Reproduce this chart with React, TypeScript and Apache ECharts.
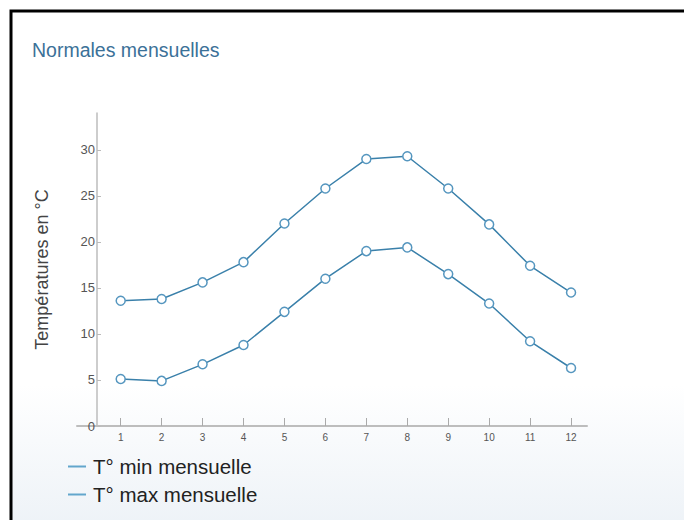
import React, { useEffect, useRef } from "react";
import * as echarts from "echarts";

const months = [1, 2, 3, 4, 5, 6, 7, 8, 9, 10, 11, 12];
const tMin = [5.1, 4.9, 6.7, 8.8, 12.4, 16.0, 19.0, 19.4, 16.5, 13.3, 9.2, 6.3];
const tMax = [13.6, 13.8, 15.6, 17.8, 22.0, 25.8, 29.0, 29.3, 25.8, 21.9, 17.4, 14.5];
const seriesNames = ["T° min mensuelle", "T° max mensuelle"];
const titleText = "Normales mensuelles";
const yAxisName = "Températures en °C";

export default function App() {
  const ref = useRef<HTMLDivElement>(null);
  useEffect(() => {
    if (!ref.current) return;
    const chart = echarts.init(ref.current, null, { renderer: "svg" });
    const lineColor = "#3a80aa";
    const markerColor = "#5596bf";
    const legendColor = "#62a6cc";
    const mk = (name: string, vals: number[]) => ({
      name,
      type: "line",
      data: months.map((m, i) => [m, vals[i]]),
      symbol: "circle",
      symbolSize: 9,
      lineStyle: { color: lineColor, width: 1.5 },
      itemStyle: { color: "#ffffff", borderColor: markerColor, borderWidth: 1.5 },
      emphasis: { disabled: true },
      z: 3,
    });
    chart.setOption({
      animation: false,
      textStyle: { fontFamily: "Arial, 'Liberation Sans', sans-serif" },
      graphic: [
        {
          type: "rect",
          z: -10,
          silent: true,
          shape: { x: 11, y: 11, width: 720, height: 519 },
          style: {
            fill: new echarts.graphic.LinearGradient(0, 0, 0, 1, [
              { offset: 0, color: "#ffffff" },
              { offset: 0.72, color: "#ffffff" },
              { offset: 1, color: "#edf2f7" },
            ]),
            stroke: "#000000",
            lineWidth: 3,
          },
        },
      ],
      title: {
        text: titleText,
        left: 27,
        top: 35,
        textStyle: { fontSize: 19.5, fontWeight: "normal", color: "#3b7198" },
      },
      legend: {
        orient: "vertical",
        left: 63,
        top: 451,
        itemWidth: 18,
        itemHeight: 2,
        itemGap: 7,
        icon: "rect",
        textStyle: { fontSize: 20.5, color: "#222222", padding: [0, 0, 0, 2] },
        data: seriesNames.map((n) => ({ name: n, itemStyle: { color: legendColor, borderWidth: 0 } })),
      },
      grid: { left: 77, right: 97, top: 113, bottom: 94, containLabel: false },
      xAxis: {
        type: "value",
        min: -0.067,
        max: 12.39,
        splitLine: { show: false },
        axisLine: { show: true, onZero: false, lineStyle: { color: "#bdbdbd", width: 2 } },
        axisTick: {
          show: true,
          inside: true,
          length: 8,
          customValues: months,
          lineStyle: { color: "#aaaaaa", width: 1 },
        },
        axisLabel: { customValues: months, fontSize: 10, color: "#555555", margin: 6 },
      },
      yAxis: {
        type: "value",
        min: 0,
        max: 34,
        interval: 5,
        offset: -20,
        name: yAxisName,
        nameLocation: "middle",
        nameGap: 46,
        nameTextStyle: { fontSize: 18, color: "#444444" },
        splitLine: { show: false },
        axisLine: { show: true, onZero: false, lineStyle: { color: "#bdbdbd", width: 1.5 } },
        axisTick: { show: true, inside: true, length: 4, lineStyle: { color: "#bbbbbb" } },
        axisLabel: { fontSize: 13, color: "#555555", margin: 2, showMaxLabel: false },
      },
      series: [mk(seriesNames[0], tMin), mk(seriesNames[1], tMax)],
    });
    return () => chart.dispose();
  }, []);
  return (
    <div
      ref={ref}
      style={{ position: "fixed", left: 0, top: 0, width: 684, height: 520, background: "#ffffff" }}
    />
  );
}
